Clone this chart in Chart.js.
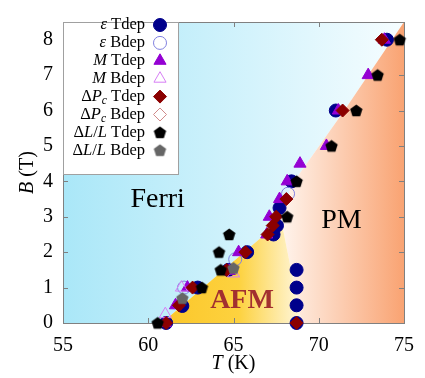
<!DOCTYPE html>
<html>
<head>
<meta charset="utf-8">
<script src="https://cdn.jsdelivr.net/npm/chart.js@4.4.1/dist/chart.umd.min.js"></script>
<style>html,body{margin:0;padding:0;background:#fff}</style>
</head>
<body>
<canvas id="c" width="425" height="378"></canvas>
<script>
// points are [T (K), B (T)]
const epsTdep = [[61.05,0],[62.0,0.48],[62.9,1.0],[64.7,1.5],[65.8,2.0],[67.35,2.5],[67.55,2.75],[67.7,3.25],[68.4,4.0],[71.0,6.0],[74.0,8.0],[68.7,0],[68.7,0.5],[68.7,1.0],[68.7,1.5]];
const epsBdep = [[62.1,1.0],[65.1,1.8],[68.2,3.65]];
const mTdep   = [[61.0,0],[61.6,0.5],[62.3,1.0],[64.75,1.47],[65.3,2.0],[66.95,2.5],[67.1,3.0],[67.7,3.5],[68.15,4.0],[68.9,4.5],[70.45,5.0],[71.15,6.0],[72.9,7.0],[73.85,8.0]];
const mBdep   = [[61.0,0.25],[61.95,1.0],[65.0,1.4]];
const pcTdep  = [[61.05,0],[68.7,0],[61.8,0.5],[62.6,1.0],[64.6,1.5],[65.7,2.0],[67.0,2.5],[67.3,2.75],[67.5,3.0],[68.1,3.5],[71.4,6.0],[73.7,8.0]];
const pcBdep  = [];
const lTdep   = [[60.55,0],[63.15,1.0],[64.25,1.5],[64.15,2.0],[64.75,2.5],[68.15,3.0],[68.7,4.0],[70.75,5.0],[72.2,6.0],[73.45,7.0],[74.75,8.0]];
const lBdep   = [[62.0,0.7],[65.0,1.55]];

const xTicks = [55, 60, 65, 70, 75];
const yTicks = [0, 1, 2, 3, 4, 5, 6, 7, 8];

// phase boundaries (T, B)
const ferriEdge = [[60.8,0],[67.8,2.9],[68.4,3.9],[71.5,6],[75,8.5]];
const afmEdge   = [[67.8,2.9],[69.0,0]];

const SERIF = '"Liberation Serif", "DejaVu Serif", serif';
Chart.defaults.font.family = SERIF;
Chart.defaults.color = '#000';

function pentagon(color, r) {
  const c = document.createElement('canvas');
  const s = Math.ceil(2 * r + 2);
  c.width = c.height = s;
  const g = c.getContext('2d');
  g.fillStyle = color;
  g.beginPath();
  for (let i = 0; i < 5; i++) {
    const a = -Math.PI / 2 + i * 2 * Math.PI / 5;
    g.lineTo(s / 2 + r * Math.cos(a), s / 2 + r * Math.sin(a) + 0.6);
  }
  g.closePath();
  g.fill();
  return c;
}

const NONE = 'rgba(0,0,0,0)';
const series = [
  { name: [['ε',1],[' Tdep',0]], data: epsTdep, style: 'circle', r: 6.5, fill: '#00008b', stroke: '#00008b' },
  { name: [['ε',1],[' Bdep',0]], data: epsBdep, style: 'circle', r: 6.5, fill: NONE, stroke: '#8080e0' },
  { name: [['M',1],[' Tdep',0]], data: mTdep, style: 'triangle', r: 7, fill: '#9400d3', stroke: '#9400d3' },
  { name: [['M',1],[' Bdep',0]], data: mBdep, style: 'triangle', r: 7, fill: NONE, stroke: '#d77ff5' },
  { name: [['Δ',0],['P',1],['c',2],[' Tdep',0]], data: pcTdep, style: 'rectRot', r: 6.5, fill: '#8b0000', stroke: '#8b0000' },
  { name: [['Δ',0],['P',1],['c',2],[' Bdep',0]], data: pcBdep, style: 'rectRot', r: 6.5, fill: NONE, stroke: '#d08a8a' },
  { name: [['Δ',0],['L',1],['/',0],['L',1],[' Tdep',0]], data: lTdep, style: pentagon('#000', 6.5), r: 6.5, fill: '#000', stroke: '#000' },
  { name: [['Δ',0],['L',1],['/',0],['L',1],[' Bdep',0]], data: lBdep, style: pentagon('#666', 6.5), r: 6.5, fill: '#666', stroke: '#666' }
];

function drawRich(ctx, segs, x, y, size, align, weight) {
  const fontOf = (s) => {
    const sz = s[1] === 2 ? size * 0.7 : size;
    return (s[1] ? 'italic ' : '') + (weight || '') + ' ' + sz + 'px ' + SERIF;
  };
  let w = 0;
  segs.forEach(s => { ctx.font = fontOf(s); w += ctx.measureText(s[0]).width; });
  let cx = align === 'right' ? x - w : align === 'center' ? x - w / 2 : x;
  ctx.textAlign = 'left';
  ctx.textBaseline = 'middle';
  segs.forEach(s => {
    ctx.font = fontOf(s);
    ctx.fillText(s[0], cx, s[1] === 2 ? y + size * 0.28 : y);
    cx += ctx.measureText(s[0]).width;
  });
}

const phasePlugin = {
  id: 'phase',
  beforeDatasetsDraw(chart) {
    const { ctx, chartArea: a, scales: { x, y } } = chart;
    const P = ([t, b]) => [x.getPixelForValue(t), y.getPixelForValue(b)];
    const poly = (pts, fill) => {
      ctx.beginPath();
      pts.map(P).forEach(([px, py], i) => i ? ctx.lineTo(px, py) : ctx.moveTo(px, py));
      ctx.closePath();
      ctx.fillStyle = fill;
      ctx.fill();
    };
    const grad = (t0, t1, stops) => {
      const g = ctx.createLinearGradient(x.getPixelForValue(t0), 0, x.getPixelForValue(t1), 0);
      stops.forEach(([o, c]) => g.addColorStop(o, c));
      return g;
    };
    ctx.save();
    // Ferri
    poly([[55, 8.5], [55, 0], ...ferriEdge], grad(55, 75, [[0, '#aae7f8'], [1, '#f6fdff']]));
    // PM
    poly([...ferriEdge.slice(1), [75, 0], afmEdge[1]], grad(67.6, 75, [[0, '#fff7f1'], [1, '#f9a372']]));
    // AFM
    poly([ferriEdge[0], afmEdge[0], afmEdge[1]], grad(60.8, 69, [[0, '#fbc629'], [0.55, '#fdd23f'], [1, '#fff7df']]));

    // region names
    ctx.fillStyle = '#000';
    drawRich(ctx, [['Ferri', 0]], x.getPixelForValue(60.55), y.getPixelForValue(3.47), 28, 'center');
    drawRich(ctx, [['PM', 0]], x.getPixelForValue(71.33), y.getPixelForValue(2.88), 28, 'center');
    ctx.fillStyle = '#a23030';
    drawRich(ctx, [['AFM', 0]], x.getPixelForValue(65.5), y.getPixelForValue(0.64), 28, 'center', 'bold');

    // frame and inner ticks on all sides
    ctx.strokeStyle = '#808080';
    ctx.lineWidth = 1;
    ctx.strokeRect(Math.round(a.left) + 0.5, Math.round(a.top) + 0.5, Math.round(a.right - a.left), Math.round(a.bottom - a.top));
    ctx.beginPath();
    const tl = 5;
    xTicks.forEach(v => {
      const px = Math.round(x.getPixelForValue(v)) + 0.5;
      ctx.moveTo(px, a.bottom); ctx.lineTo(px, a.bottom - tl);
      ctx.moveTo(px, a.top); ctx.lineTo(px, a.top + tl);
    });
    yTicks.forEach(v => {
      const py = Math.round(y.getPixelForValue(v)) + 0.5;
      ctx.moveTo(a.left, py); ctx.lineTo(a.left + tl, py);
      ctx.moveTo(a.right, py); ctx.lineTo(a.right - tl, py);
    });
    ctx.stroke();
    ctx.restore();
  },
  afterDraw(chart) {
    const { ctx, chartArea: a } = chart;
    ctx.save();
    // legend box
    const bx = Math.round(a.left) + 0.5, by = Math.round(a.top) + 0.5;
    ctx.fillStyle = '#fff';
    ctx.fillRect(bx, by, 115, 152);
    ctx.strokeStyle = '#a0a0a0';
    ctx.lineWidth = 1;
    ctx.strokeRect(bx, by, 115, 152);
    series.forEach((s, i) => {
      const ry = 25 + i * 17.9;
      ctx.fillStyle = '#000';
      drawRich(ctx, s.name, 145, ry, 16.5, 'right');
      ctx.fillStyle = s.fill;
      ctx.strokeStyle = s.stroke;
      ctx.lineWidth = 1;
      Chart.helpers.drawPoint(ctx, { pointStyle: s.style, radius: s.r, borderWidth: 1, rotation: 0 }, 160, ry);
    });
    // axis titles
    ctx.fillStyle = '#000';
    drawRich(ctx, [['T', 1], [' (K)', 0]], (a.left + a.right) / 2, 364, 20, 'center');
    ctx.translate(28, (a.top + a.bottom) / 2);
    ctx.rotate(-Math.PI / 2);
    drawRich(ctx, [['B', 1], [' (T)', 0]], 0, 0, 20, 'center');
    ctx.restore();
  }
};

new Chart(document.getElementById('c'), {
  type: 'scatter',
  data: {
    datasets: series.map((s, i) => ({
      label: s.name.map(p => p[0]).join(''),
      data: s.data.map(([t, b]) => ({ x: t, y: b })),
      pointStyle: s.style,
      pointRadius: s.r,
      pointHoverRadius: s.r,
      backgroundColor: s.fill,
      borderColor: s.stroke,
      borderWidth: 1,
      clip: false,
      order: series.length - i
    }))
  },
  options: {
    responsive: false,
    animation: false,
    devicePixelRatio: 1,
    layout: { padding: { left: 0, right: 19, top: 7, bottom: 0 } },
    plugins: { legend: { display: false }, tooltip: { enabled: false } },
    scales: {
      x: {
        type: 'linear', min: 55, max: 75,
        afterBuildTicks: s => { s.ticks = xTicks.map(v => ({ value: v })); },
        afterFit: s => { s.height = 55; },
        ticks: { font: { size: 20 }, color: '#000', padding: 11 },
        grid: { display: false, drawTicks: false },
        border: { display: false }
      },
      y: {
        type: 'linear', min: 0, max: 8.5,
        afterBuildTicks: s => { s.ticks = yTicks.map(v => ({ value: v })); },
        afterFit: s => { s.width = 63; },
        ticks: { font: { size: 20 }, color: '#000', padding: 10 },
        grid: { display: false, drawTicks: false },
        border: { display: false }
      }
    }
  },
  plugins: [phasePlugin]
});
</script>
</body>
</html>
